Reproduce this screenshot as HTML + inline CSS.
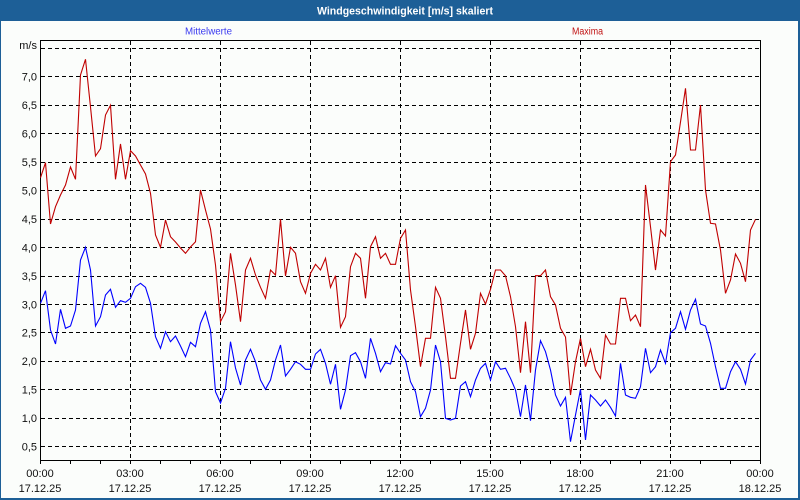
<!DOCTYPE html>
<html><head><meta charset="utf-8"><style>
html,body{margin:0;padding:0;background:#fff;}
svg{display:block;}
text{font-family:"Liberation Sans",Arial,sans-serif;}
</style></head><body>
<svg width="800" height="500" viewBox="0 0 800 500" xmlns="http://www.w3.org/2000/svg">
<rect x="0" y="0" width="800" height="500" fill="#1d5f97"/>
<rect x="1" y="21" width="797" height="477" fill="#fbfdfb"/>
<text x="405" y="14.5" fill="#ffffff" font-size="11" font-weight="bold" text-anchor="middle" textLength="176" lengthAdjust="spacingAndGlyphs">Windgeschwindigkeit [m/s] skaliert</text>
<text x="208.5" y="34.5" fill="#3a3af0" font-size="10" text-anchor="middle" textLength="47" lengthAdjust="spacingAndGlyphs">Mittelwerte</text>
<text x="587.5" y="34.5" fill="#c01010" font-size="10" text-anchor="middle" textLength="31" lengthAdjust="spacingAndGlyphs">Maxima</text>

<g stroke="#000" stroke-width="1" stroke-dasharray="4,3" fill="none" shape-rendering="crispEdges">
<line x1="41" y1="48.5" x2="760" y2="48.5"/>
<line x1="41" y1="76.5" x2="760" y2="76.5"/>
<line x1="41" y1="105.5" x2="760" y2="105.5"/>
<line x1="41" y1="133.5" x2="760" y2="133.5"/>
<line x1="41" y1="162.5" x2="760" y2="162.5"/>
<line x1="41" y1="190.5" x2="760" y2="190.5"/>
<line x1="41" y1="219.5" x2="760" y2="219.5"/>
<line x1="41" y1="247.5" x2="760" y2="247.5"/>
<line x1="41" y1="276.5" x2="760" y2="276.5"/>
<line x1="41" y1="304.5" x2="760" y2="304.5"/>
<line x1="41" y1="332.5" x2="760" y2="332.5"/>
<line x1="41" y1="361.5" x2="760" y2="361.5"/>
<line x1="41" y1="389.5" x2="760" y2="389.5"/>
<line x1="41" y1="418.5" x2="760" y2="418.5"/>
<line x1="41" y1="446.5" x2="760" y2="446.5"/>
<line x1="130.5" y1="41" x2="130.5" y2="460"/>
<line x1="220.5" y1="41" x2="220.5" y2="460"/>
<line x1="310.5" y1="41" x2="310.5" y2="460"/>
<line x1="400.5" y1="41" x2="400.5" y2="460"/>
<line x1="490.5" y1="41" x2="490.5" y2="460"/>
<line x1="580.5" y1="41" x2="580.5" y2="460"/>
<line x1="670.5" y1="41" x2="670.5" y2="460"/>
</g>

<rect x="40.5" y="40.5" width="720" height="420" fill="none" stroke="#000" stroke-width="1" shape-rendering="crispEdges"/>

<g stroke="#000" stroke-width="1" shape-rendering="crispEdges">
<path d="M40.5 460v4M70.5 460v4M100.5 460v4M130.5 460v4M160.5 460v4M190.5 460v4M220.5 460v4M250.5 460v4M280.5 460v4M310.5 460v4M340.5 460v4M370.5 460v4M400.5 460v4M430.5 460v4M460.5 460v4M490.5 460v4M520.5 460v4M550.5 460v4M580.5 460v4M610.5 460v4M640.5 460v4M670.5 460v4M700.5 460v4M730.5 460v4M760.5 460v4"/>
</g>

<polyline fill="none" stroke="#c00000" stroke-width="1.1" stroke-linejoin="miter" points="
40.5,177.7 45.5,162.7 50.5,224 55.5,206.7 60.5,195 65.5,185 70.5,167 75.5,179.3 80.5,75 85.5,59.3 90.5,107 95.5,156 100.5,148.7 105.5,115 110.5,105.3 115.5,179.3 120.5,144 125.5,179.3 130.5,150.7 135.5,156 140.5,165 145.5,174 150.5,193.3 155.5,235 160.5,247.3 165.5,220 170.5,236.7 175.5,242 180.5,248 185.5,253.3 190.5,247 195.5,241.7 200.5,190 205.5,210 210.5,229 215.5,265 220.5,321.7 225.5,311.7 230.5,253.3 235.5,285 240.5,321.7 245.5,270 250.5,258.3 255.5,275 260.5,287.3 265.5,298.3 270.5,270 275.5,275 280.5,219.3 285.5,276 290.5,247.3 295.5,253.3 300.5,281.7 305.5,293.3 310.5,273.3 315.5,264.3 320.5,270 325.5,258.3 330.5,287.3 335.5,275.7 340.5,327.3 345.5,316.7 350.5,266.7 355.5,253.3 360.5,258.3 365.5,298.3 370.5,246.7 375.5,236.7 380.5,258.3 385.5,253.3 390.5,264.3 395.5,264.3 400.5,238.3 405.5,230 410.5,290 415.5,326.7 420.5,366.7 425.5,338.3 430.5,338.3 435.5,287.3 440.5,298.3 445.5,336.7 450.5,378.3 455.5,378.3 460.5,343.3 465.5,310 470.5,349.3 475.5,333.3 480.5,293.3 485.5,304 490.5,289.3 495.5,270 500.5,270 505.5,275.7 510.5,296.7 515.5,326.7 520.5,372.7 525.5,321.7 530.5,372.7 535.5,275.7 540.5,275.7 545.5,270 550.5,296.7 555.5,305 560.5,328.3 565.5,337 570.5,395 575.5,361.7 580.5,338.3 585.5,366.7 590.5,349.3 595.5,370 600.5,378.3 605.5,335 610.5,344 615.5,344 620.5,298.3 625.5,298.3 630.5,320.7 635.5,315 640.5,326.7 645.5,185 650.5,226.7 655.5,270 660.5,230 665.5,236 670.5,161.7 675.5,155 680.5,122 685.5,88.3 690.5,150 695.5,150 700.5,105 705.5,190 710.5,223.3 715.5,224 720.5,250 725.5,293.3 730.5,280 735.5,254 740.5,263.3 745.5,281.7 750.5,230 755.5,219.3"/>

<polyline fill="none" stroke="#0000ff" stroke-width="1.1" stroke-linejoin="miter" points="
40.5,303.3 45.5,290.7 50.5,330 55.5,344 60.5,309.3 65.5,328.3 70.5,326 75.5,310 80.5,260 85.5,247.3 90.5,270 95.5,326 100.5,316.7 105.5,295 110.5,289.3 115.5,307.3 120.5,300.7 125.5,302.3 130.5,298.3 135.5,286.7 140.5,283.3 145.5,287.3 150.5,303.3 155.5,336.7 160.5,348.3 165.5,331.7 170.5,341.7 175.5,336 180.5,346 185.5,356.7 190.5,342.3 195.5,346.7 200.5,323.3 205.5,311.7 210.5,330 215.5,391.7 220.5,403 225.5,388.3 230.5,341.7 235.5,368 240.5,385 245.5,360 250.5,349.3 255.5,361.7 260.5,380 265.5,389.3 270.5,380 275.5,360 280.5,345 285.5,376 290.5,369.3 295.5,361.7 300.5,364.3 305.5,369.3 310.5,369.3 315.5,354 320.5,349.3 325.5,363.3 330.5,384.3 335.5,364.3 340.5,409.3 345.5,390 350.5,355.7 355.5,352.7 360.5,361.7 365.5,378.3 370.5,338.3 375.5,353.3 380.5,371.7 385.5,362.7 390.5,364 395.5,345.7 400.5,353.3 405.5,360 410.5,381.7 415.5,391.7 420.5,416.7 425.5,408.3 430.5,390 435.5,345 440.5,361.7 445.5,418.3 450.5,420 455.5,418.3 460.5,386 465.5,381.7 470.5,396.7 475.5,380 480.5,368.3 485.5,363.3 490.5,380 495.5,361.7 500.5,369.3 505.5,368.3 510.5,378.3 515.5,390 520.5,416.7 525.5,385 530.5,420.7 535.5,370 540.5,340.7 545.5,351.7 550.5,370 555.5,395 560.5,406 565.5,397.3 570.5,441.7 575.5,415 580.5,389.3 585.5,440 590.5,395 595.5,400 600.5,406 605.5,400 610.5,407.3 615.5,416 620.5,363.3 625.5,395 630.5,397.3 635.5,398.3 640.5,386.7 645.5,348.3 650.5,372.7 655.5,366.7 660.5,350 665.5,363.3 670.5,332.7 675.5,328.3 680.5,311.7 685.5,329.3 690.5,310 695.5,299.3 700.5,324 705.5,326 710.5,343.3 715.5,366.7 720.5,388.3 725.5,388.3 730.5,371.7 735.5,361.7 740.5,369.3 745.5,384 750.5,360 755.5,353.3"/>

<g fill="#101010" font-size="11" text-anchor="end">
<text x="37" y="49">m/s</text>
<text x="37" y="80.5">7,0</text>
<text x="37" y="109">6,5</text>
<text x="37" y="137.5">6,0</text>
<text x="37" y="166">5,5</text>
<text x="37" y="194.5">5,0</text>
<text x="37" y="223">4,5</text>
<text x="37" y="251.5">4,0</text>
<text x="37" y="280">3,5</text>
<text x="37" y="308.5">3,0</text>
<text x="37" y="336.5">2,5</text>
<text x="37" y="365">2,0</text>
<text x="37" y="393.5">1,5</text>
<text x="37" y="422">1,0</text>
<text x="37" y="450.5">0,5</text>
</g>

<g fill="#101010" font-size="11" text-anchor="middle">
<text x="40" y="477">00:00</text><text x="40" y="492">17.12.25</text>
<text x="130" y="477">03:00</text><text x="130" y="492">17.12.25</text>
<text x="220" y="477">06:00</text><text x="220" y="492">17.12.25</text>
<text x="310" y="477">09:00</text><text x="310" y="492">17.12.25</text>
<text x="400" y="477">12:00</text><text x="400" y="492">17.12.25</text>
<text x="490" y="477">15:00</text><text x="490" y="492">17.12.25</text>
<text x="580" y="477">18:00</text><text x="580" y="492">17.12.25</text>
<text x="670" y="477">21:00</text><text x="670" y="492">17.12.25</text>
<text x="760" y="477">00:00</text><text x="760" y="492">18.12.25</text>
</g>
</svg>
</body></html>
